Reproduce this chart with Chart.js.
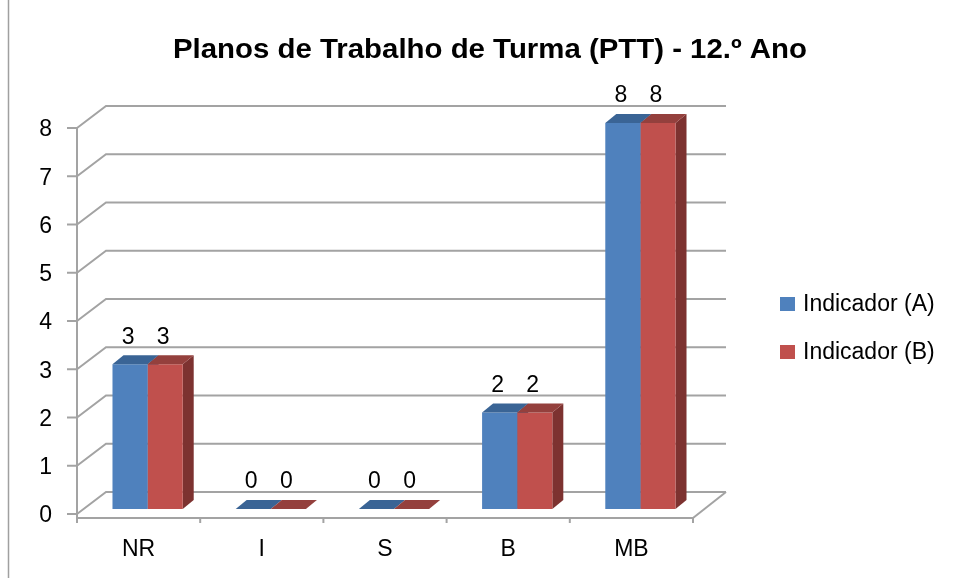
<!DOCTYPE html>
<html lang="pt">
<head>
    <meta charset="UTF-8">
    <title>Planos de Trabalho de Turma (PTT) - 12.º Ano</title>
    <style>
        body {
            margin: 0;
            padding: 0;
            background: #fff;
        }
        .chart-box {
            width: 955px;
            height: 578px;
            position: relative;
        }
    </style>
</head>
<body>
    <div class="chart-box">
        <canvas id="pttChart" width="955" height="578"></canvas>
    </div>
    <script src="https://cdn.jsdelivr.net/npm/chart.js"></script>
    <script>
    // Data
    const categories = ['NR', 'I', 'S', 'B', 'MB'];
    const indicadorA = [3, 0, 0, 2, 8];
    const indicadorB = [3, 0, 0, 2, 8];
    const seriesNames = ['Indicador (A)', 'Indicador (B)'];
    const yTickValues = [0, 1, 2, 3, 4, 5, 6, 7, 8];
    const chartTitle = 'Planos de Trabalho de Turma (PTT) - 12.º Ano';

    // Colours: front, top, side
    const seriesColors = [
        { front: '#4F81BD', top: '#3A6495', side: '#2F527B' },
        { front: '#C0504D', top: '#94403D', side: '#7D3230' }
    ];
    const gridColor = '#a3a3a3';
    const labelFont = '23px "Liberation Sans", Arial, sans-serif';

    // 3D offsets relative to the plane of the bar fronts
    const frontOff = { x: -9, y: 5 };
    const backOff = { x: 20, y: -17 };
    const barDepth = { x: 11, y: -9 };

    function line(ctx, x1, y1, x2, y2) {
        ctx.beginPath();
        ctx.moveTo(x1, y1);
        ctx.lineTo(x2, y2);
        ctx.stroke();
    }

    function poly(ctx, pts, color) {
        ctx.beginPath();
        ctx.moveTo(pts[0][0], pts[0][1]);
        for (let i = 1; i < pts.length; i++) ctx.lineTo(pts[i][0], pts[i][1]);
        ctx.closePath();
        ctx.fillStyle = color;
        ctx.fill();
    }

    const frame3d = {
        id: 'frame3d',
        beforeDatasetsDraw(chart) {
            const ctx = chart.ctx;
            const area = chart.chartArea;
            const ys = chart.scales.y;
            const xs = chart.scales.x;
            ctx.save();

            // left border of the picture
            ctx.strokeStyle = '#a0a0a0';
            ctx.lineWidth = 1.5;
            line(ctx, 8.5, 0, 8.5, chart.height);

            ctx.strokeStyle = gridColor;
            ctx.lineWidth = 2;
            const fx = area.left + frontOff.x;
            yTickValues.forEach(v => {
                const y = ys.getPixelForValue(v);
                // side wall diagonal + back wall line
                ctx.beginPath();
                ctx.moveTo(fx, y + frontOff.y);
                ctx.lineTo(area.left + backOff.x, y + backOff.y);
                ctx.lineTo(area.right + backOff.x + 4, y + backOff.y);
                ctx.stroke();
                // tick mark on front axis
                line(ctx, fx - 10, y + frontOff.y, fx, y + frontOff.y);
            });

            // vertical axis
            const floorY = area.bottom + frontOff.y + 4;
            line(ctx, fx, ys.getPixelForValue(8) + frontOff.y, fx, floorY + 4);

            // floor
            line(ctx, fx, floorY, area.right + frontOff.x, floorY);
            line(ctx, area.right + frontOff.x, floorY, area.right + backOff.x + 4, area.bottom + backOff.y);
            const catW = (area.right - area.left) / categories.length;
            for (let i = 0; i <= categories.length; i++) {
                const x = fx + i * catW;
                line(ctx, x, floorY, x, floorY + 5);
            }

            // axis labels
            ctx.fillStyle = '#000';
            ctx.font = labelFont;
            ctx.textAlign = 'right';
            ctx.textBaseline = 'middle';
            yTickValues.forEach(v => {
                ctx.fillText(String(v), 52, ys.getPixelForValue(v) + frontOff.y + 2);
            });
            ctx.textAlign = 'center';
            categories.forEach((c, i) => {
                ctx.fillText(c, xs.getPixelForValue(i) + frontOff.x, 550);
            });

            // side faces of the bars (behind the fronts)
            chart.data.datasets.forEach((ds, di) => {
                const meta = chart.getDatasetMeta(di);
                meta.data.forEach(bar => {
                    const p = bar.getProps(['x', 'y', 'base', 'width'], true);
                    const r = p.x + p.width / 2;
                    poly(ctx, [
                        [r, p.y], [r + barDepth.x, p.y + barDepth.y],
                        [r + barDepth.x, p.base + barDepth.y], [r, p.base]
                    ], seriesColors[di].side);
                });
            });
            ctx.restore();
        },
        afterDatasetsDraw(chart) {
            const ctx = chart.ctx;
            ctx.save();
            chart.data.datasets.forEach((ds, di) => {
                const meta = chart.getDatasetMeta(di);
                meta.data.forEach((bar, i) => {
                    const p = bar.getProps(['x', 'y', 'base', 'width'], true);
                    const l = p.x - p.width / 2;
                    const r = p.x + p.width / 2;
                    poly(ctx, [
                        [l, p.y], [r, p.y],
                        [r + barDepth.x, p.y + barDepth.y], [l + barDepth.x, p.y + barDepth.y]
                    ], seriesColors[di].top);
                    // value label
                    ctx.fillStyle = '#000';
                    ctx.font = labelFont;
                    ctx.textAlign = 'center';
                    ctx.textBaseline = 'middle';
                    ctx.fillText(String(ds.data[i]), p.x - 2, p.y - 27);
                });
            });

            // title, stretched to the width it has in the original
            ctx.fillStyle = '#000';
            ctx.font = 'bold 28px "Liberation Sans", Arial, sans-serif';
            ctx.textAlign = 'center';
            ctx.textBaseline = 'alphabetic';
            const tw = ctx.measureText(chartTitle).width;
            const sx = 634 / tw;
            ctx.save();
            ctx.translate(490, 58);
            ctx.scale(sx, 1);
            ctx.fillText(chartTitle, 0, 0);
            ctx.restore();

            // legend
            ctx.font = labelFont;
            ctx.textAlign = 'left';
            ctx.textBaseline = 'middle';
            seriesNames.forEach((name, i) => {
                const cy = 304 + i * 48;
                ctx.fillStyle = seriesColors[i].front;
                ctx.fillRect(780, cy - 7, 15, 14);
                ctx.fillStyle = '#000';
                ctx.fillText(name, 803, cy + 1);
            });
            ctx.restore();
        }
    };

    const ctx = document.getElementById('pttChart').getContext('2d');
    const pttChart = new Chart(ctx, {
        type: 'bar',
        data: {
            labels: categories,
            datasets: [
                { label: seriesNames[0], data: indicadorA, backgroundColor: seriesColors[0].front, borderWidth: 0 },
                { label: seriesNames[1], data: indicadorB, backgroundColor: seriesColors[1].front, borderWidth: 0 }
            ]
        },
        options: {
            responsive: false,
            animation: false,
            layout: { padding: { left: 86, right: 253, top: 123, bottom: 69 } },
            datasets: { bar: { categoryPercentage: 0.57, barPercentage: 1 } },
            plugins: {
                legend: { display: false },
                title: { display: false },
                tooltip: { enabled: false }
            },
            scales: {
                x: { display: false },
                y: { display: false, min: 0, max: 8, ticks: { stepSize: 1 } }
            }
        },
        plugins: [frame3d]
    });
    </script>
</body>
</html>
